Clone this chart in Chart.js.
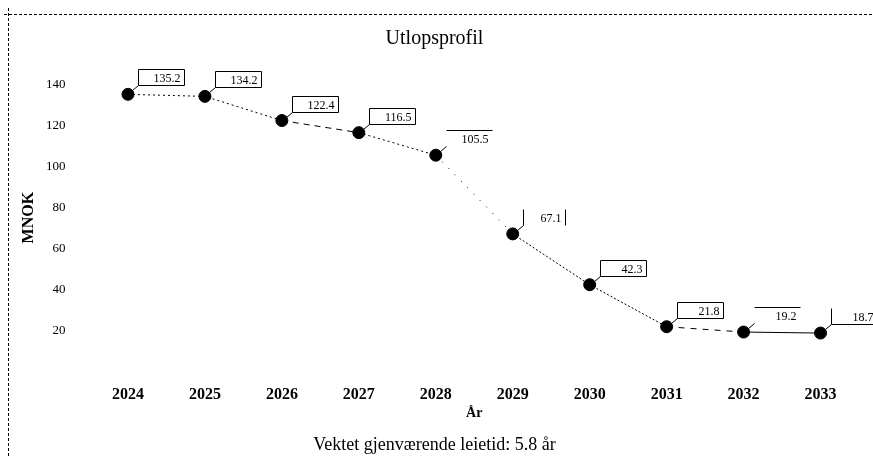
<!DOCTYPE html>
<html>
<head>
<meta charset="utf-8">
<script src="https://cdn.jsdelivr.net/npm/chart.js@4"></script>
<style>
  html, body { margin: 0; padding: 0; background: #fff; }
</style>
</head>
<body>
<canvas id="myChart" width="873" height="457"></canvas>
<script>
var YEARS = ['2024', '2025', '2026', '2027', '2028', '2029', '2030', '2031', '2032', '2033'];
var MNOK = [135.2, 134.2, 122.4, 116.5, 105.5, 67.1, 42.3, 21.8, 19.2, 18.7];
var Y_TICKS = [20, 40, 60, 80, 100, 120, 140];

// how each value label is framed in the original
var FRAMES = ['box', 'box', 'box', 'box', 'top', 'sides', 'box', 'box', 'top', 'left'];
// dash pattern of the line leaving each point
var DASHES = [[2, 3], [2, 3], [6, 5], [2, 3], [1, 8], [2, 2], [2, 2], [6, 6], [], []];

var FONT = '"Liberation Serif", "DejaVu Serif", serif';

// dashed frame at top and left
var framePlugin = {
    id: 'frame',
    beforeDraw: function(chart) {
	var c = chart.ctx;
	c.save();
	c.strokeStyle = '#000';
	c.lineWidth = 1;
	c.setLineDash([3, 2]);
	c.beginPath();
	c.moveTo(4, 14.5);
	c.lineTo(chart.width, 14.5);
	c.moveTo(8.5, 8);
	c.lineTo(8.5, chart.height);
	c.stroke();
	c.restore();
    }
};

// boxed value labels with a small leader line
var labelPlugin = {
    id: 'valueLabels',
    afterDatasetsDraw: function(chart) {
	var c = chart.ctx;
	var meta = chart.getDatasetMeta(0);
	c.save();
	c.font = '12px ' + FONT;
	c.fillStyle = '#000';
	c.strokeStyle = '#000';
	c.lineWidth = 1;
	c.setLineDash([]);
	c.textAlign = 'right';
	c.textBaseline = 'middle';
	meta.data.forEach(function(pt, i) {
	    var x = Math.round(pt.x) + 0.5;
	    var y = Math.round(pt.y) + 0.5;
	    var bx = x + 10, by = y - 25, bw = 46, bh = 16;
	    var tx = bx + bw - 4;
	    c.beginPath();
	    c.moveTo(x + 4, y - 4);
	    c.lineTo(bx, by + bh);
	    var f = FRAMES[i];
	    if (f === 'box') {
		c.rect(bx, by, bw, bh);
	    } else if (f === 'top') {
		c.moveTo(bx, by);
		c.lineTo(bx + bw, by);
	    } else if (f === 'sides') {
		c.moveTo(bx, by);
		c.lineTo(bx, by + bh);
		c.moveTo(bx + bw - 4, by);
		c.lineTo(bx + bw - 4, by + bh);
		tx = bx + bw - 8;
	    } else if (f === 'left') {
		c.moveTo(bx, by);
		c.lineTo(bx, by + bh);
		c.lineTo(bx + bw - 4, by + bh);
	    }
	    c.stroke();
	    c.fillText(MNOK[i].toFixed(1), tx, by + bh / 2 + 1);
	});
	c.restore();
    }
};

var ctx = document.getElementById('myChart').getContext('2d');
var myChart = new Chart(ctx, {
    type: 'line',
    data: {
	labels: YEARS,
	datasets: [{
	    data: MNOK,
	    borderColor: '#000',
	    borderWidth: 1,
	    backgroundColor: '#000',
	    pointRadius: 6,
	    pointHoverRadius: 6,
	    pointBackgroundColor: '#000',
	    tension: 0,
	    segment: {
		borderDash: function(s) { return DASHES[s.p0DataIndex]; }
	    }
	}]
    },
    options: {
	responsive: false,
	animation: false,
	devicePixelRatio: 1,
	layout: { padding: { left: 10, right: 14, top: 16, bottom: 0 } },
	plugins: {
	    legend: { display: false },
	    tooltip: { enabled: false },
	    title: {
		display: true,
		text: 'Utlopsprofil',
		color: '#000',
		font: { family: FONT, size: 20, weight: 'normal' },
		padding: { top: 11, bottom: 13 }
	    },
	    subtitle: {
		display: true,
		position: 'bottom',
		text: 'Vektet gjenværende leietid: 5.8 år',
		color: '#000',
		font: { family: FONT, size: 18, weight: 'normal' },
		padding: { top: 13, bottom: 1 }
	    }
	},
	scales: {
	    x: {
		offset: true,
		grid: { display: false, drawTicks: false },
		border: { display: false },
		ticks: {
		    color: '#000',
		    padding: 14,
		    autoSkip: false,
		    font: { family: FONT, size: 16, weight: 'bold' },
		    maxRotation: 0
		},
		title: {
		    display: true,
		    text: 'År',
		    color: '#000',
		    font: { family: FONT, size: 14, weight: 'bold' },
		    padding: { top: -14, bottom: 0 }
		}
	    },
	    y: {
		min: 0,
		max: 150,
		grid: { display: false },
		border: { display: false },
		afterBuildTicks: function(scale) {
		    scale.ticks = Y_TICKS.map(function(v) { return { value: v }; });
		},
		afterFit: function(scale) { scale.width = 79.5; },
		ticks: {
		    color: '#000',
		    padding: 16,
		    font: { family: FONT, size: 13 }
		},
		title: {
		    display: true,
		    text: 'MNOK',
		    color: '#000',
		    font: { family: FONT, size: 16, weight: 'bold' },
		    padding: { top: 9, bottom: 0 }
		}
	    }
	}
    },
    plugins: [framePlugin, labelPlugin]
});
</script>
</body>
</html>
